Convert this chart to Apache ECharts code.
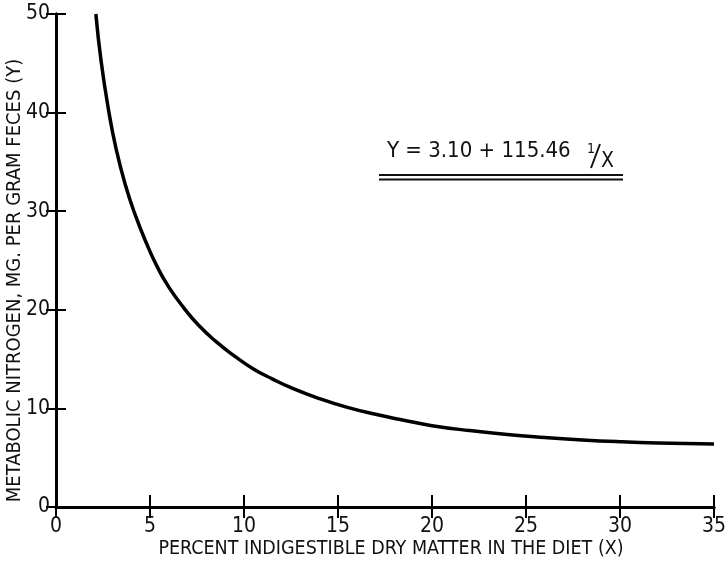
<!DOCTYPE html>
<html>
<head>
<meta charset="utf-8">
<script src="https://cdn.jsdelivr.net/npm/echarts@6/dist/echarts.min.js"></script>
<style>
html,body{margin:0;padding:0;background:#fff;}
#chart{width:726px;height:564px;}
</style>
</head>
<body>
<div id="chart"></div>
<script>
// Data
var curveX = [2.12, 2.4, 2.8, 3.2, 3.7, 4.2, 4.8, 5.4, 6.0, 6.8, 7.6, 8.5, 9.5, 10.5, 11.5, 12.5, 14, 15.5, 17, 18.5, 20, 22, 24, 26, 28, 30, 32, 35];
var curveY = [50, 45.2, 40.2, 36.3, 32.6, 29.7, 26.8, 24.3, 22.3, 20.2, 18.4, 16.8, 15.3, 14.0, 13.0, 12.1, 11.0, 10.1, 9.4, 8.8, 8.25, 7.75, 7.35, 7.05, 6.8, 6.62, 6.5, 6.4];
var xTicks = [0, 5, 10, 15, 20, 25, 30, 35];
var yTicks = [0, 10, 20, 30, 40, 50];
var xTitle = 'PERCENT INDIGESTIBLE DRY MATTER IN THE DIET (X)';
var yTitle = 'METABOLIC NITROGEN, MG. PER GRAM FECES (Y)';
var equationMain = 'Y = 3.10 + 115.46';

var FONT = '"Liberation Sans Narrow", "DejaVu Sans Condensed", sans-serif';
var chart = echarts.init(document.getElementById('chart'));
var pts = curveX.map(function (x, i) { return [x, curveY[i]]; });

var axisLine = { show: true, lineStyle: { color: '#000', width: 3 } };
var labelStyle = { color: '#111', fontFamily: FONT, fontSize: 21 };

chart.setOption({
  backgroundColor: '#fff',
  animation: false,
  grid: { left: 56, right: 12, top: 14, bottom: 57, containLabel: false, outerBoundsMode: 'none' },
  xAxis: [{
    type: 'value', min: 0, max: 35, interval: 5, position: 'bottom',
    axisLine: axisLine,
    axisTick: { show: true, inside: true, length: 12, lineStyle: { color: '#000', width: 2 } },
    axisLabel: Object.assign({ margin: 9 }, labelStyle),
    splitLine: { show: false },
    name: xTitle, nameLocation: 'middle', nameGap: 32, nameMoveOverlap: false,
    nameTextStyle: { color: '#111', fontFamily: FONT, fontSize: 19.5, padding: [0, 0, 0, 12] }
  }, {
    type: 'value', min: 0, max: 35, interval: 5, position: 'top',
    axisLine: axisLine,
    axisTick: { show: true, inside: true, length: 11, lineStyle: { color: '#000', width: 2 } },
    axisLabel: { show: false }, splitLine: { show: false }
  }],
  yAxis: [{
    type: 'value', min: 0, max: 50, interval: 10, position: 'left',
    axisLine: axisLine,
    axisTick: { show: true, inside: true, length: 10, lineStyle: { color: '#000', width: 2 } },
    axisLabel: Object.assign({ margin: 6 }, labelStyle),
    splitLine: { show: false },
    name: yTitle, nameLocation: 'middle', nameGap: 31, nameRotate: 90, nameMoveOverlap: false,
    nameTextStyle: { color: '#111', fontFamily: FONT, fontSize: 20, padding: [0, 40, 0, 0] }
  }, {
    type: 'value', min: 0, max: 50, interval: 10, position: 'right',
    axisLine: axisLine,
    axisTick: { show: true, inside: true, length: 10, lineStyle: { color: '#000', width: 2 } },
    axisLabel: { show: false }, splitLine: { show: false }
  }],
  series: [{
    type: 'line', data: pts, smooth: true, showSymbol: false, symbol: 'none',
    xAxisIndex: 0, yAxisIndex: 0,
    lineStyle: { color: '#000', width: 3.5 }
  }],
  graphic: [
    { type: 'text', left: 387, top: 140, style: { text: equationMain, font: '22px ' + FONT, fill: '#111' } },
    { type: 'text', left: 587, top: 142, style: { text: '1', font: '14px ' + FONT, fill: '#111' } },
    { type: 'line', shape: { x1: 591, y1: 168, x2: 600, y2: 144 }, style: { stroke: '#111', lineWidth: 2 } },
    { type: 'text', left: 601, top: 151, style: { text: 'X', font: '21px ' + FONT, fill: '#111' } },
    { type: 'line', shape: { x1: 379, y1: 175, x2: 623, y2: 175 }, style: { stroke: '#111', lineWidth: 2 } },
    { type: 'line', shape: { x1: 379, y1: 179.5, x2: 623, y2: 179.5 }, style: { stroke: '#111', lineWidth: 2 } }
  ]
});
</script>
</body>
</html>
